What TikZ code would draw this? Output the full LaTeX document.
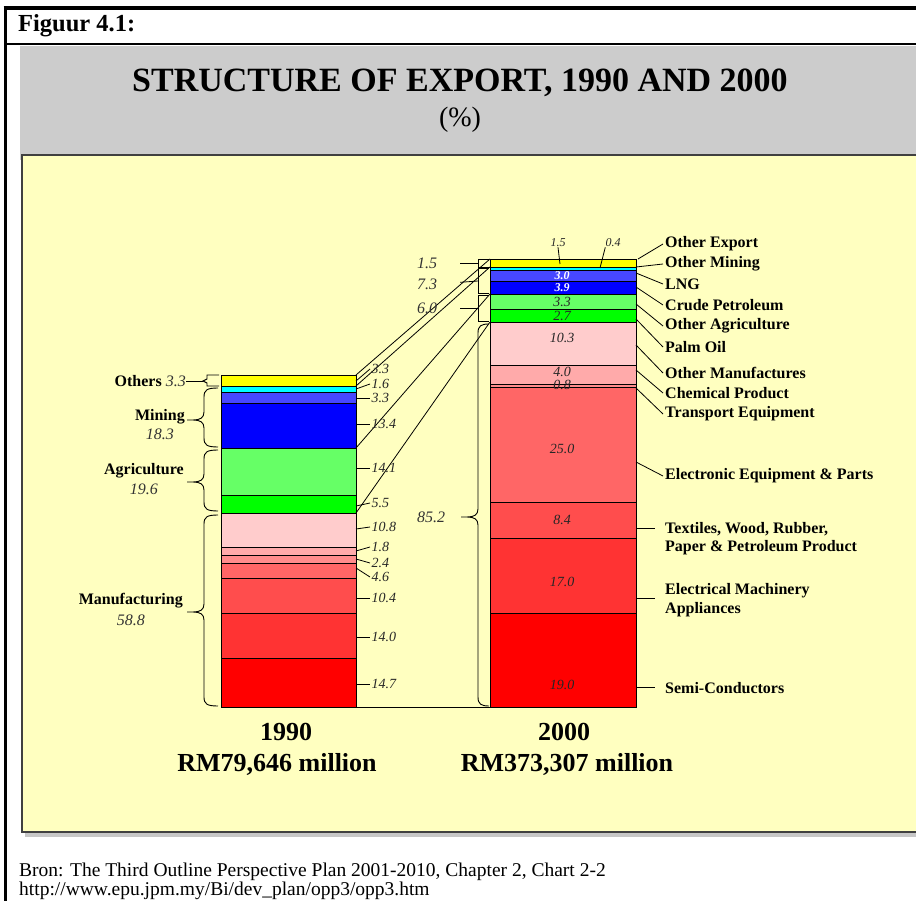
\documentclass[tikz,border=0pt]{standalone}
\usepackage{fontspec}
\setmainfont{Liberation Serif}
\usetikzlibrary{calc}
\definecolor{panelY}{HTML}{FFFFC0}
\definecolor{panelG}{HTML}{CCCCCC}
\definecolor{panelB}{HTML}{404040}
\definecolor{cY}{HTML}{FFFF00}
\definecolor{cC}{HTML}{00FFFF}
\definecolor{cBa}{HTML}{4747FF}
\definecolor{cBb}{HTML}{0000FF}
\definecolor{cGa}{HTML}{66FF66}
\definecolor{cGb}{HTML}{00FF00}
\definecolor{cPa}{HTML}{FFCCCC}
\definecolor{cPb}{HTML}{FFAAAA}
\definecolor{cPc}{HTML}{FF8C8C}
\definecolor{cRa}{HTML}{FF6666}
\definecolor{cRb}{HTML}{FF4D4D}
\definecolor{cRc}{HTML}{FF3333}
\definecolor{cRd}{HTML}{FF0000}
\newcommand\barseg[6]{\node[segbox, fill=#6, minimum width=#4pt, minimum height=#5pt] (#1) at (#2,#3) {};}
\newcommand\vbrace[5]{\draw[bracepath] (#1+#5,#2) .. controls (#1+3,#2) and (#1,#2+2) .. (#1,#2+9) -- (#1,#3-8) .. controls (#1,#3-2) and (#1-4,#3) .. (#1-11,#3) -- (#1-17,#3) -- (#1-11,#3) .. controls (#1-4,#3) and (#1,#3+2) .. (#1,#3+8) -- (#1,#4-9) .. controls (#1,#4-2) and (#1+3,#4) .. (#1+#5,#4);}
\tikzset{
  segbox/.style={draw=black, line width=0.9pt, inner sep=0pt, outer sep=0pt, anchor=north west},
  bracepath/.style={draw=black, line width=0.9pt},
  lead/.style={draw=black, line width=0.8pt},
  rlab/.style={font=\fontsize{16}{18}\selectfont\bfseries, inner sep=0pt, inner xsep=2pt, anchor=west},
  llab/.style={font=\fontsize{16}{18}\selectfont\bfseries, inner sep=0pt, anchor=east},
  bnum/.style={font=\fontsize{16}{18}\selectfont\itshape, inner sep=0pt, text=black!80},
  snum/.style={font=\fontsize{14}{16}\selectfont\itshape, inner sep=0pt, inner xsep=1.5pt, text=black!85},
  wnum/.style={font=\fontsize{12}{13}\selectfont\bfseries\itshape, inner sep=0pt, text=white},
  tnum/.style={font=\fontsize{12}{14}\selectfont\itshape, inner sep=0pt, text=black!85},
  yearlab/.style={font=\fontsize{26}{30}\selectfont\bfseries, inner sep=0pt, anchor=base},
}
\begin{document}
\begin{tikzpicture}[x=1pt,y=-1pt]
\useasboundingbox (0,0) rectangle (916,901);
\clip (0,0) rectangle (916,901);
\fill[white] (0,0) rectangle (916,901);
% panels
\fill[panelG] (20,46) rectangle (916,160);
\fill[black!22] (25,832) rectangle (930,837);
\draw[draw=panelB, line width=1.5pt, fill=panelY] (22,155) rectangle (935,832);
% frame
\draw[line width=3.5pt] (3.5,8) -- (916,8);
\draw[line width=3.5pt] (5.5,6.25) -- (5.5,901);
\draw[line width=2.2pt] (4,44) -- (916,44);
\node[font=\fontsize{24.5}{28}\selectfont\bfseries, inner sep=0pt, anchor=base west] (fig) at (18,32) {Figuur 4.1:};
% title
\node[font=\fontsize{34}{38}\selectfont\bfseries, inner sep=0pt, anchor=base] (title) at (460,92) {STRUCTURE OF EXPORT, 1990 AND 2000};
\node[font=\fontsize{28}{30}\selectfont, inner sep=0pt, anchor=base] (pct) at (460,127) {(\%)};
% left bar
\barseg{L1}{221}{375}{135}{11}{cY}
\barseg{L2}{221}{386}{135}{6}{cC}
\barseg{L3}{221}{392}{135}{11}{cBa}
\barseg{L4}{221}{403}{135}{45}{cBb}
\barseg{L5}{221}{448}{135}{47}{cGa}
\barseg{L6}{221}{495}{135}{18}{cGb}
\barseg{L7}{221}{513}{135}{34}{cPa}
\barseg{L8}{221}{547}{135}{8}{cPb}
\barseg{L9}{221}{555}{135}{8}{cPc}
\barseg{L10}{221}{563}{135}{15}{cRa}
\barseg{L11}{221}{578}{135}{35}{cRb}
\barseg{L12}{221}{613}{135}{45}{cRc}
\barseg{L13}{221}{658}{135}{49}{cRd}
% right bar
\barseg{R1}{490}{259}{146}{8}{cY}
\barseg{R2}{490}{267}{146}{3}{cC}
\barseg{R3}{490}{270}{146}{11}{cBa}
\barseg{R4}{490}{281}{146}{13}{cBb}
\barseg{R5}{490}{294}{146}{15}{cGa}
\barseg{R6}{490}{309}{146}{13}{cGb}
\barseg{R7}{490}{322}{146}{43}{cPa}
\barseg{R8}{490}{365}{146}{19}{cPb}
\barseg{R9}{490}{384}{146}{3}{cPc}
\barseg{R10}{490}{387}{146}{115}{cRa}
\barseg{R11}{490}{502}{146}{36}{cRb}
\barseg{R12}{490}{538}{146}{75}{cRc}
\barseg{R13}{490}{613}{146}{94}{cRd}
% values inside right bar
\node[wnum] (v1) at (562,275.5) {3.0};
\node[wnum] (v2) at (562,287.5) {3.9};
\node[snum] (v3) at (562,302) {3.3};
\node[snum] (v4) at (562,316) {2.7};
\node[snum] (v5) at (562,338) {10.3};
\node[snum] (v6) at (562,372) {4.0};
\node[snum] (v7) at (562,385) {0.8};
\node[snum] (v8) at (562,449) {25.0};
\node[snum] (v9) at (562,520) {8.4};
\node[snum] (v10) at (562,582) {17.0};
\node[snum] (v11) at (562,685) {19.0};
% labels above right bar
\node[tnum] (t15) at (558,243) {1.5};
\node[tnum] (t04) at (613,243) {0.4};
\coordinate (t15e) at (560,264);
\coordinate (t04e) at (600,268);
\draw[lead] (t15.south) -- (t15e);
\draw[lead] (t04.south west) -- (t04e);
% connectors between bars
\draw[lead] (L1.north east) -- (R1.north west);
\draw[lead] (L1.south east) -- (R2.north west);
\draw[lead] (L4.south east) -- (R5.north west);
\draw[lead] (L6.south east) -- (R7.north west);
\draw[lead] (L13.south east) -- (R13.south west);
% left bar values
\node[snum, anchor=west] (n1) at (370,369) {3.3};
\node[snum, anchor=west] (n2) at (370,384) {1.6};
\node[snum, anchor=west] (n3) at (370,398) {3.3};
\node[snum, anchor=west] (n4) at (370,424) {13.4};
\node[snum, anchor=west] (n5) at (370,468) {14.1};
\node[snum, anchor=west] (n6) at (370,503) {5.5};
\node[snum, anchor=west] (n7) at (370,527) {10.8};
\node[snum, anchor=west] (n8) at (370,547) {1.8};
\node[snum, anchor=west] (n9) at (370,563) {2.4};
\node[snum, anchor=west] (n10) at (370,577) {4.6};
\node[snum, anchor=west] (n11) at (370,598) {10.4};
\node[snum, anchor=west] (n12) at (370,637) {14.0};
\node[snum, anchor=west] (n13) at (370,684) {14.7};
\coordinate (a1) at (356,381);
\coordinate (a2) at (356,389);
\coordinate (a3) at (356,398);
\coordinate (a4) at (356,424);
\coordinate (a5) at (356,468);
\coordinate (a6) at (356,506);
\coordinate (a7) at (356,529);
\coordinate (a8) at (356,551);
\coordinate (a9) at (356,559);
\coordinate (a10) at (356,568);
\coordinate (a11) at (356,598);
\coordinate (a12) at (356,637);
\coordinate (a13) at (356,684);
\foreach \i in {1,...,13} {\draw[lead] (a\i) -- (n\i.west);}
% left braces and labels
\node[llab] (oth) at (186,381) {Others {\mdseries\itshape\color{black!80}3.3}};
\coordinate (othtip) at (203,381);
\draw[lead] (oth.east) -- (othtip);
\draw[bracepath] (219,375) -- (207,375) -- (207,379) -- (othtip) -- (207,383) -- (207,386) -- (219,386);
\vbrace{204}{388}{420}{447}{14}
\vbrace{204}{450}{482}{511}{14}
\vbrace{204}{515}{612}{706}{14}
\node[llab] (mi) at (185,417) {Mining};
\node[bnum] (miv) at ([yshift=-17pt]mi.center) {18.3};
\node[llab] (ag) at (184,471) {Agriculture};
\node[bnum] (agv) at ([yshift=-18pt]ag.center) {19.6};
\node[llab] (ma) at (183,601) {Manufacturing};
\node[bnum] (mav) at ([yshift=-19pt]ma.center) {58.8};
% right-bar left brackets
\node[bnum] (l15) at (427,263) {1.5};
\node[bnum] (l73) at (427,284) {7.3};
\node[bnum] (l60) at (427,308) {6.0};
\node[bnum] (l852) at (431,517) {85.2};
\coordinate (k15) at (478,263);
\coordinate (k73) at (478,281);
\coordinate (k60) at (478,308);
\draw[lead, shorten <=23pt] (l15.east) -- (k15);
\draw[lead, shorten <=23pt] (l73.east) -- (k73);
\draw[lead, shorten <=23pt] (l60.east) -- (k60);
\draw[bracepath] (489,259) -- (478,259) -- (478,267) -- (489,267);
\draw[bracepath] (489,268) -- (478,268) -- (478,293) -- (489,293);
\draw[bracepath] (489,295) -- (478,295) -- (478,321) -- (489,321);
\vbrace{478}{324}{517}{706}{11}
% right labels
\node[rlab] (oe) at (663,244) {Other Export};
\node[rlab] (om) at (663,264) {Other Mining};
\node[rlab] (lng) at (663,284) {LNG};
\node[rlab] (cp) at (663,305) {Crude Petroleum};
\node[rlab] (oa) at (663,326) {Other Agriculture};
\node[rlab] (po) at (663,347) {Palm Oil};
\node[rlab] (omf) at (663,373) {Other Manufactures};
\node[rlab] (chem) at (663,393) {Chemical Product};
\node[rlab] (tr) at (663,414) {Transport Equipment};
\node[rlab] (el) at (663,476) {Electronic Equipment \& Parts};
\node[rlab] (txa) at (663,529) {Textiles, Wood, Rubber,};
\node[rlab] (txb) at (663,548) {Paper \& Petroleum Product};
\node[rlab] (ema) at (663,591) {Electrical Machinery};
\node[rlab] (emb) at (663,610) {Appliances};
\node[rlab] (sc) at (663,688) {Semi-Conductors};
\coordinate (boe) at (638,259);
\coordinate (bom) at (636,267);
\coordinate (blng) at (636,273);
\coordinate (bcp) at (636,287);
\coordinate (boa) at (636,304);
\coordinate (bpo) at (636,319);
\coordinate (bomf) at (636,345);
\coordinate (bchem) at (636,370);
\coordinate (btr) at (636,388);
\coordinate (bel) at (636,462);
\coordinate (btx) at (636,528);
\coordinate (bem) at (636,598);
\coordinate (bsc) at (636,687);
\foreach \n in {oe,om,lng,cp,oa,po,omf,chem,tr,el} {\draw[lead] (b\n) -- (\n.west);}
\draw[lead, shorten >=8pt] (btx) -- (btx -| txa.west);
\draw[lead, shorten >=8pt] (bem) -- (bem -| ema.west);
\draw[lead, shorten >=8pt] (bsc) -- (bsc -| sc.west);
% years
\node[yearlab] (y1) at (286,740) {1990};
\node[yearlab] (y1m) at (277,771) {RM79,646 million};
\node[yearlab] (y2) at (564,740) {2000};
\node[yearlab] (y2m) at (567,771) {RM373,307 million};
% source
\node[font=\fontsize{19.5}{22}\selectfont, inner sep=0pt, anchor=base west] (src) at (19,876) {Bron: The Third Outline Perspective Plan 2001-2010, Chapter 2, Chart 2-2};
\node[font=\fontsize{19.5}{22}\selectfont, inner sep=0pt, anchor=base west] (url) at (19,895) {http://www.epu.jpm.my/Bi/dev\_plan/opp3/opp3.htm};
\end{tikzpicture}
\end{document}
